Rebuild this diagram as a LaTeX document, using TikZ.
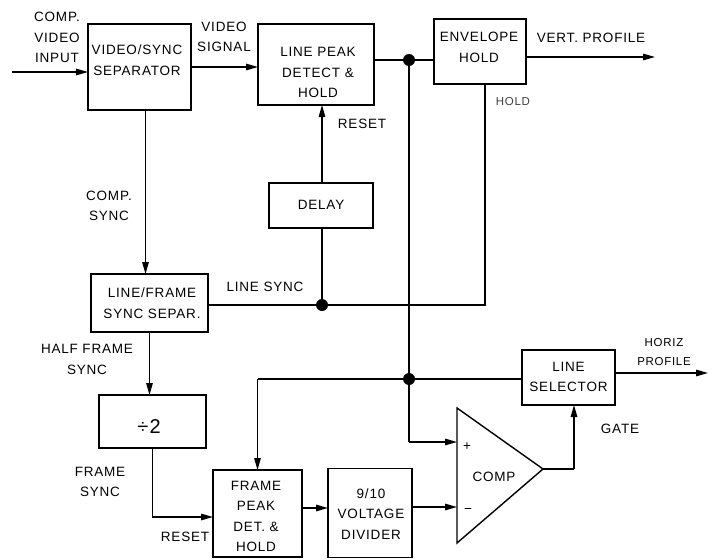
\documentclass[tikz,border=0pt]{standalone}
\usepackage{fontspec}
\setmainfont[LetterSpace=6]{Liberation Sans}
\usetikzlibrary{arrows.meta}
\begin{document}
\begin{tikzpicture}[x=1pt,y=-1pt,
  box/.style={draw,line width=1.4pt,inner sep=0pt,outer sep=0pt},
  txt/.style={font=\fontsize{13.5}{20.5}\selectfont,align=center,inner sep=0pt},
  small/.style={font=\fontsize{11.5}{19}\selectfont,align=center,inner sep=0pt,text=black!75},
  wire/.style={line width=1.4pt},
  arr/.style={wire,-{Triangle[length=12pt,width=6.5pt]}},
  dotn/.style={circle,fill,inner sep=0pt,minimum size=12pt}]
\useasboundingbox (0,0) rectangle (719,559);

% boxes
\node[box,minimum width=103pt,minimum height=86pt] (vss) at (139.5,67) {};
\node[box,minimum width=116pt,minimum height=81pt] (lpd) at (316,64.5) {};
\node[box,minimum width=92pt,minimum height=65pt] (env) at (480,51.5) {};
\node[box,minimum width=104pt,minimum height=45pt] (delay) at (321,205.5) {};
\node[box,minimum width=117pt,minimum height=58pt] (lfs) at (149.5,303) {};
\node[box,minimum width=107pt,minimum height=53pt] (div2) at (152.5,421.5) {};
\node[box,minimum width=89pt,minimum height=87pt] (fpd) at (257.5,513.5) {};
\node[box,minimum width=84pt,minimum height=89pt] (vd) at (370,513) {};
\node[box,minimum width=93pt,minimum height=55pt] (lsel) at (568.5,377.5) {};

% box texts
\node[txt] (tvss) at (137,60) {VIDEO/SYNC\\SEPARATOR};
\node[txt] (tlpd) at (318,72.5) {LINE PEAK\\DETECT \&\\HOLD};
\node[txt] (tenv) at (479,47.5) {ENVELOPE\\HOLD};
\node[txt] (tdel) at (321,205) {DELAY};
\node[txt] (tlfs) at (152,303) {LINE/FRAME\\SYNC SEPAR.};
\node[font=\fontsize{20}{20}\selectfont,inner sep=0pt] (tdiv) at (149,427) {÷2};
\node[txt] (tfpd) at (256,516.5) {FRAME\\PEAK\\DET. \&\\HOLD};
\node[txt] (tvd) at (371,514) {9/10\\VOLTAGE\\DIVIDER};
\node[txt] (tlsel) at (568.5,377) {LINE\\SELECTOR};

% comparator
\coordinate (cTop) at (457,408);
\coordinate (cBot) at (457,543);
\coordinate (cApex) at (543,469);
\draw[wire,line join=miter] (cTop) -- (cApex) -- (cBot) -- cycle;
\node[txt] (tcomp) at (494,477) {COMP};
\node[txt] (tplus) at (467,447) {+};
\node[txt] (tminus) at (468,511) {−};

% junction coordinates
\coordinate (inS) at (12,72);
\coordinate (dot1) at (409,60);
\coordinate (dot2) at (322,305);
\coordinate (hc) at (485,305);
\coordinate (dot3) at (409,379);
\coordinate (fc) at (257.5,379);
\coordinate (pin) at (409,442);
\coordinate (pi) at (457,442);
\coordinate (mi) at (457,507);
\coordinate (gate) at (574,469);
\coordinate (vout) at (655,57);
\coordinate (hout) at (708,373);
\coordinate (r1) at (152.5,517);
\coordinate (m1) at (302,508);
\coordinate (cs) at (145.5,110);

% connectors
\draw[arr] (inS) -- (inS -| vss.west);
\draw[arr] (vss.east) -- (vss.east -| lpd.west);
\draw[wire] (lpd.east |- dot1) -- (dot1) -- (dot1 -| env.west);
\draw[arr] (env.east |- vout) -- (vout);
\draw[wire] (env.south -| hc) -- (hc) -- (dot2) -- (dot2 -| lfs.east);
\draw[wire] (delay.south -| dot2) -- (dot2);
\draw[arr] (delay.north -| dot2) -- (lpd.south -| dot2);
\draw[arr] (cs) -- (cs |- lfs.north);
\draw[arr] (lfs.south) -- (lfs.south |- div2.north);
\draw[arr] (div2.south) -- (r1) -- (r1 -| fpd.west);
\draw[wire] (dot1) -- (dot3) -- (pin);
\draw[arr] (pin) -- (pi);
\draw[wire] (fc) -- (dot3) -- (dot3 -| lsel.west);
\draw[arr] (fc) -- (fc |- fpd.north);
\draw[arr] (m1) -- (m1 -| vd.west);
\draw[arr] (vd.east |- mi) -- (mi);
\draw[wire] (cApex) -- (gate);
\draw[arr] (gate) -- (gate |- lsel.south);
\draw[arr] (lsel.east |- hout) -- (hout);

% dots
\node[dotn] (d1) at (dot1) {};
\node[dotn] (d2) at (dot2) {};
\node[dotn] (d3) at (dot3) {};

% labels
\node[txt] (lin) at (57,37.5) {COMP.\\VIDEO\\INPUT};
\node[txt] (lvs) at (224,37) {VIDEO\\SIGNAL};
\node[txt] (lrs1) at (362,124) {RESET};
\node[txt] (lvp) at (591,38) {VERT. PROFILE};
\node[small] (lhold) at (513,102) {HOLD};
\node[txt] (lcs) at (109,206) {COMP.\\SYNC};
\node[txt] (lls) at (265,287) {LINE SYNC};
\node[txt] (lhf) at (87,359.5) {HALF FRAME\\SYNC};
\node[txt] (lfs2) at (100,482) {FRAME\\SYNC};
\node[txt] (lrs2) at (185,537) {RESET};
\node[small,text=black] (lhp) at (664,352) {HORIZ\\PROFILE};
\node[txt] (lgate) at (620,429) {GATE};
\end{tikzpicture}
\end{document}
